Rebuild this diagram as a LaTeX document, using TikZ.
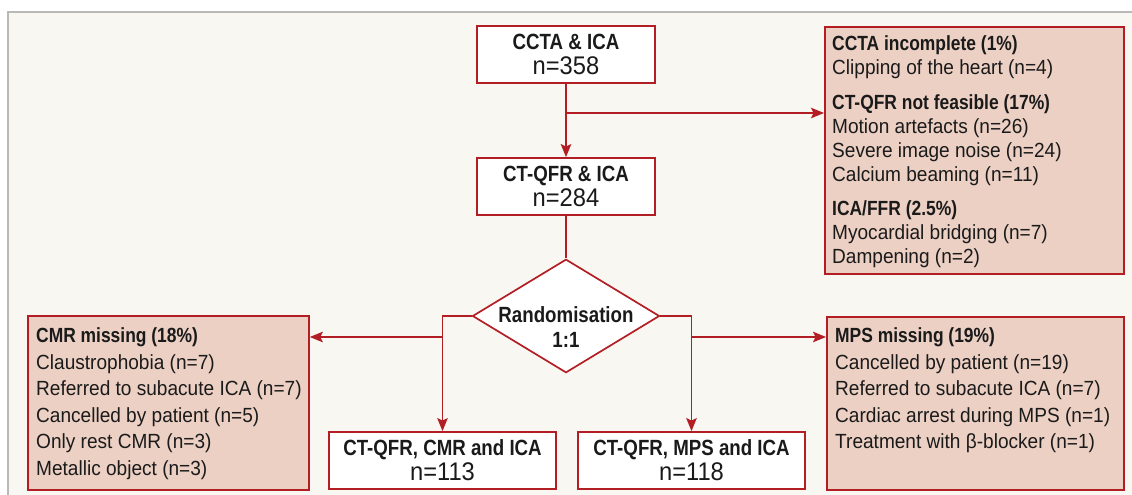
\documentclass[tikz,border=0pt]{standalone}
\usepackage{fontspec}
\setmainfont{Liberation Sans}[FakeStretch=0.93]
\newfontfamily\bdfam{Liberation Sans}[FakeStretch=0.85]
\usetikzlibrary{shapes.geometric,arrows.meta}
\definecolor{dred}{RGB}{178,30,36}
\definecolor{pinkf}{RGB}{236,208,196}
\definecolor{bgc}{RGB}{248,247,242}
\definecolor{txt}{RGB}{26,26,26}
\definecolor{frame}{RGB}{185,185,185}
\newcommand\hd[1]{{\bdfam\bfseries #1}}
\newcommand\nn[1]{{\fontsize{25.5}{25}\selectfont #1}}
\begin{document}
\begin{tikzpicture}[x=1pt,y=-1pt,
  every node/.style={text=txt},
  mainbox/.style={draw=dred, line width=1.8pt, fill=white, minimum width=178pt,
    minimum height=57pt, inner sep=0pt, align=center, font=\fontsize{22}{25}\selectfont},
  sidebox/.style={draw=dred, line width=1.8pt, fill=pinkf, inner sep=0pt, anchor=north west},
  sidetext/.style={anchor=north west, inner sep=0pt, align=left},
  conn/.style={draw=dred, line width=1.7pt},
  arr/.style={conn, -{Stealth[length=13pt,width=10.5pt,inset=2.5pt]}},
]
\useasboundingbox (0,0) rectangle (1132,495);
\fill[bgc] (8,12) rectangle (1132,495);
\draw[frame, line width=1.2pt] (8,495) -- (8,12) -- (1132,12);

% main boxes
\node[mainbox] (b1) at (566,54.5) {\hd{CCTA \& ICA}\\\nn{n=358}};
\node[mainbox] (b2) at (566,186.5) {\hd{CT-QFR \& ICA}\\\nn{n=284}};
\node[mainbox, minimum width=227pt] (c1) at (442.5,460.5) {\hd{CT-QFR, CMR and ICA}\\\nn{n=113}};
\node[mainbox, minimum width=227pt] (c2) at (691.5,460.5) {\hd{CT-QFR, MPS and ICA}\\\nn{n=118}};

% randomisation diamond
\node[diamond, draw=dred, line width=1.7pt, fill=white, minimum width=187pt,
  minimum height=113.5pt, inner sep=0pt] (rd) at (566,316) {};
\node[align=center, inner sep=0pt, font=\fontsize{22}{25}\selectfont] (rdt) at (566,327.5)
  {\hd{Randomisation}\\\hd{1:1}};

% side boxes
\node[sidebox, minimum width=299pt, minimum height=247pt] (r1) at (824,26) {};
\node[sidetext, font=\fontsize{20.5}{24}\selectfont] (r1t) at (832,33.2)
  {\strut\hd{CCTA incomplete (1\%)}\\
   Clipping of the heart (n=4)\\[11pt]
   \hd{CT-QFR not feasible (17\%)}\\
   Motion artefacts (n=26)\\
   Severe image noise (n=24)\\
   Calcium beaming (n=11)\\[10pt]
   \hd{ICA/FFR (2.5\%)}\\
   Myocardial bridging (n=7)\\
   Dampening (n=2)};

\node[sidebox, minimum width=281pt, minimum height=174pt] (lb) at (27,315) {};
\node[sidetext, font=\fontsize{20.5}{26.5}\selectfont] (lbt) at (36,324.2)
  {\strut\hd{CMR missing (18\%)}\\
   Claustrophobia (n=7)\\
   Referred to subacute ICA (n=7)\\
   Cancelled by patient (n=5)\\
   Only rest CMR (n=3)\\
   Metallic object (n=3)};

\node[sidebox, minimum width=297pt, minimum height=173pt] (rb) at (826,316) {};
\node[sidetext, font=\fontsize{20.5}{26.5}\selectfont] (rbt) at (835,324.2)
  {\strut\hd{MPS missing (19\%)}\\
   Cancelled by patient (n=19)\\
   Referred to subacute ICA (n=7)\\
   Cardiac arrest during MPS (n=1)\\
   Treatment with β-blocker (n=1)};

% connectors
\draw[arr] (b1) -- (b2);
\coordinate (s1) at (566,113);
\draw[arr] (s1) -- (s1 -| r1.west);
\draw[conn] (b2) -- (rd);
\draw[arr] (rd.west) -| (c1.north);
\draw[arr] (rd.east) -| (c2.north);
\coordinate (ml) at (442.5,337);
\coordinate (mr) at (691.5,337);
\draw[arr] (ml) -- (ml -| lb.east);
\draw[arr] (mr) -- (mr -| rb.west);
\end{tikzpicture}
\end{document}
